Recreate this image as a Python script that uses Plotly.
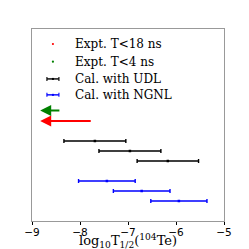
import plotly.graph_objects as go

# Data
udl_center = [-7.69, -6.96, -6.17]
udl_err = [0.645, 0.645, 0.64]
udl_y = [8, 7, 6]
ngnl_center = [-7.44, -6.715, -5.94]
ngnl_err = [0.59, 0.59, 0.585]
ngnl_y = [4, 3, 2]

expt_labels = ["Expt. T<18 ns", "Expt. T<4 ns"]
expt_limit = [-7.745, -8.398]   # log10(18 ns), log10(4 ns)
expt_arrow_end = [-8.83, -8.83]
expt_y = [10.0, 11.05]
expt_colors = ["#ff0000", "#008000"]

cal_labels = ["Cal. with UDL", "Cal. with NGNL"]
cal_colors = ["black", "blue"]

x_ticks = [-9, -8, -7, -6, -5]
x_ticktext = ["−9", "−8", "−7", "−6", "−5"]
x_title = "log<sub>10</sub>T<sub>1/2</sub>(<sup>104</sup>Te)"

serif = "DejaVu Serif"
fig = go.Figure()

fig.add_trace(go.Scatter(x=udl_center, y=udl_y, mode="markers", name=cal_labels[0],
                         marker=dict(color="black", size=2.5, symbol="square"),
                         error_x=dict(type="data", array=udl_err, color="black",
                                      thickness=1.4, width=2), showlegend=False))
fig.add_trace(go.Scatter(x=ngnl_center, y=ngnl_y, mode="markers", name=cal_labels[1],
                         marker=dict(color="blue", size=2.5, symbol="square"),
                         error_x=dict(type="data", array=ngnl_err, color="blue",
                                      thickness=1.4, width=2), showlegend=False))

for xs, xe, y, col in zip(expt_limit, expt_arrow_end, expt_y, expt_colors):
    fig.add_annotation(x=xe, y=y, ax=xs, ay=y, xref="x", yref="y", axref="x", ayref="y",
                       showarrow=True, arrowhead=2, arrowsize=1, arrowwidth=2.2,
                       arrowcolor=col, text="")

# Manual legend (matplotlib-style)
leg_rows = [0.922, 0.830, 0.740, 0.657]
sym_x = 0.109
text_x = 0.212
labels = expt_labels + cal_labels
colors = expt_colors + cal_colors
for i, (lab, col, ry) in enumerate(zip(labels, colors, leg_rows)):
    fig.add_annotation(x=text_x, y=ry, xref="paper", yref="paper", text=lab,
                       showarrow=False, xanchor="left", yanchor="middle",
                       font=dict(family=serif, size=12, color="black"))
    if i < 2:
        fig.add_shape(type="circle", xref="paper", yref="paper", xsizemode="pixel",
                      ysizemode="pixel", xanchor=sym_x, yanchor=ry,
                      x0=-1.1, x1=1.1, y0=-1.1, y1=1.1, fillcolor=col, line=dict(width=0))
    else:
        fig.add_shape(type="line", xref="paper", yref="paper", xsizemode="pixel",
                      ysizemode="pixel", xanchor=sym_x, yanchor=ry,
                      x0=-6, x1=6, y0=0, y1=0, line=dict(color=col, width=1.4))
        for cx in (-6, 6):
            fig.add_shape(type="line", xref="paper", yref="paper", xsizemode="pixel",
                          ysizemode="pixel", xanchor=sym_x, yanchor=ry,
                          x0=cx, x1=cx, y0=-2, y1=2, line=dict(color=col, width=1.1))
        fig.add_shape(type="rect", xref="paper", yref="paper", xsizemode="pixel",
                      ysizemode="pixel", xanchor=sym_x, yanchor=ry,
                      x0=-1, x1=1, y0=-1, y1=1, fillcolor=col, line=dict(width=0))

# x-axis title
fig.add_annotation(x=0.5, y=-0.103, xref="paper", yref="paper", text=x_title,
                   showarrow=False, xanchor="center", yanchor="middle",
                   font=dict(family=serif, size=13, color="black"))

fig.update_layout(
    width=249, height=249,
    margin=dict(l=32, r=25, t=29, b=28, autoexpand=False),
    plot_bgcolor="white", paper_bgcolor="white",
    showlegend=False,
    xaxis=dict(range=[-9, -5], tickvals=x_ticks, ticktext=x_ticktext,
               showgrid=False, zeroline=False, showline=True, linecolor="#999999",
               linewidth=1, mirror=True, ticks="outside", ticklen=3, tickcolor="black",
               tickfont=dict(family="DejaVu Sans", size=10.5, color="black"),
               ticklabelstandoff=-2, automargin=False),
    yaxis=dict(range=[0, 19.2], showgrid=False, zeroline=False, showline=True,
               linecolor="#999999", linewidth=1, mirror=True, showticklabels=False,
               ticks="", automargin=False),
)

fig.write_html("out.html", config={"displayModeBar": False},
               post_script="document.body.style.margin='0';")
